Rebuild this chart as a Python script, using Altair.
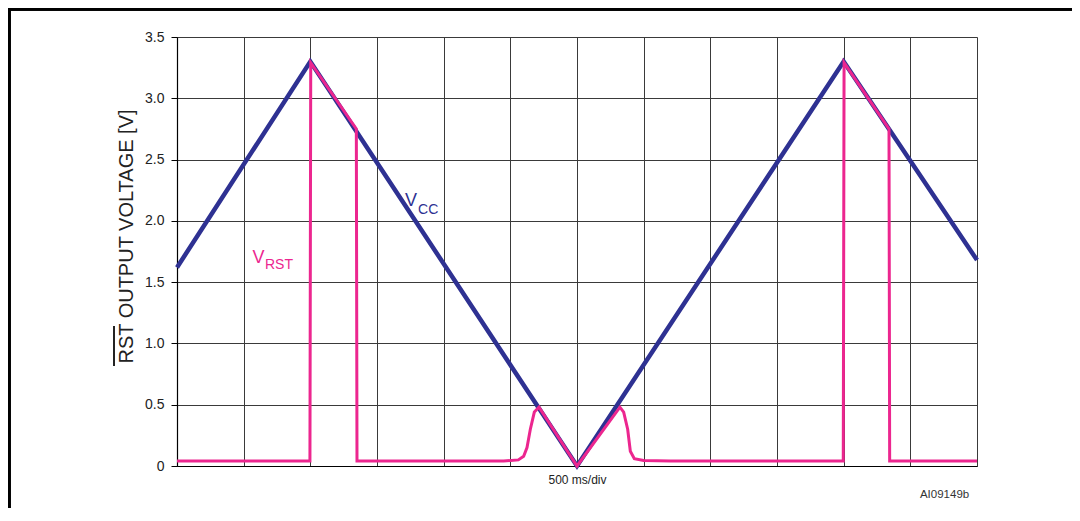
import altair as alt
import pandas as pd

# ---- data (time in ms, 500 ms/div; voltage in V) ----
vcc_t = [0, 1000, 3000, 5000, 6000]
vcc_v = [1.62, 3.30, 0.0, 3.30, 1.68]

rst_t = [0, 997, 1003, 1345, 1350, 2450, 2560, 2600, 2625, 2650, 2680, 2715,
         3000, 3322, 3350, 3380, 3400, 3430, 3500, 3700, 4997, 5003, 5340, 5345, 6000]
rst_v = [0.04, 0.04, 3.29, 2.75, 0.04, 0.04, 0.05, 0.08, 0.15, 0.30, 0.44, 0.48,
         0.0, 0.48, 0.44, 0.30, 0.12, 0.06, 0.045, 0.04, 0.04, 3.29, 2.75, 0.04, 0.04]

x_ticks = list(range(0, 6001, 500))
y_ticks = [0, 0.5, 1.0, 1.5, 2.0, 2.5, 3.0, 3.5]

NAVY = "#2e3192"
PINK = "#ec268f"
FONT = "Liberation Sans"

vcc = pd.DataFrame({"t": vcc_t, "v": vcc_v})
rst = pd.DataFrame({"t": rst_t, "v": rst_v})

xs = alt.Scale(domain=[0, 6000], nice=False, zero=False)
ys = alt.Scale(domain=[0, 3.5], nice=False)

x_enc = alt.X("t:Q", scale=xs, axis=alt.Axis(
    values=x_ticks, labels=False, ticks=False, grid=True, gridColor="#3a3a3a",
    gridOpacity=1, gridWidth=1, domainColor="#000", domainWidth=1.2,
    title="500 ms/div", titleFont=FONT, titleFontSize=12, titleFontWeight="normal",
    titleColor="#222", titlePadding=8))
y_enc = alt.Y("v:Q", scale=ys, axis=alt.Axis(
    values=y_ticks, labelExpr="datum.value == 0 ? '0' : format(datum.value, '.1f')",
    grid=True, gridColor="#3a3a3a", gridOpacity=1, gridWidth=1,
    domainColor="#000", domainWidth=1.2, tickColor="#000", tickSize=6,
    labelFont=FONT, labelFontSize=14, labelColor="#222", labelPadding=7,
    title="RST OUTPUT VOLTAGE [V]", titleFont=FONT, titleFontSize=20,
    titleFontWeight="normal", titleColor="#222",
    titleX=-45, titleY=199, titleAlign="center", titleBaseline="alphabetic",
    titleAngle=270))

base_vcc = alt.Chart(vcc).mark_line(color=NAVY, strokeWidth=4.5).encode(x=x_enc, y=y_enc)
line_rst = alt.Chart(rst).mark_line(color=PINK, strokeWidth=3).encode(x="t:Q", y="v:Q")

ann = pd.DataFrame({
    "t": [1710, 1808, 567, 660, 5572],
    "v": [2.16, 2.09, 1.70, 1.64, -0.24],
    "txt": ["V", "CC", "V", "RST", "AI09149b"],
    "c": [NAVY, NAVY, PINK, PINK, "#333333"],
    "s": [18, 14, 18, 14, 11.5],
})
labels = alt.Chart(ann).mark_text(align="left", baseline="middle", font=FONT).encode(
    x="t:Q", y="v:Q", text="txt:N",
    color=alt.Color("c:N", scale=None),
    size=alt.Size("s:Q", scale=None))

overline = alt.Chart(ann).mark_rule(color="#222", strokeWidth=1.3).encode(
    x=alt.value(-63), y=alt.value(289), y2=alt.value(329))

border_top = alt.Chart(ann).mark_rule(color="#000", strokeWidth=3).encode(
    x=alt.value(-168), x2=alt.value(900), y=alt.value(-28))
border_left = alt.Chart(ann).mark_rule(color="#000", strokeWidth=3).encode(
    x=alt.value(-168), y=alt.value(-29), y2=alt.value(475))

chart = alt.layer(base_vcc, line_rst, labels, overline, border_top, border_left).properties(
    width=800, height=429, autosize="none",
    padding={"left": 169, "top": 29, "right": 95, "bottom": 42},
).configure_view(stroke="#000", strokeWidth=1.2).configure(background="white")

chart.save("out.html", embed_options={"renderer": "svg", "actions": False})
